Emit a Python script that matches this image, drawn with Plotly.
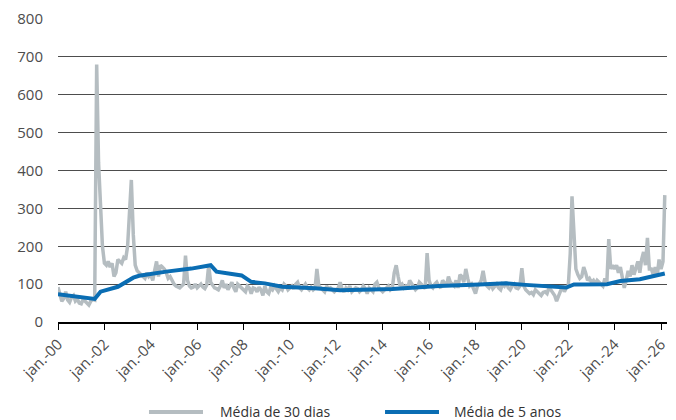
import pandas as pd
import plotly.graph_objects as go

# Média de 30 dias (monthly readings, Jan-2000 .. Mar-2026)
gray_2000s = [
    92, 70, 55, 62, 80, 58, 52, 65, 70, 55, 60, 50,        # 2000
    48, 60, 55, 52, 45, 55, 60, 58, 680, 420, 280, 200,    # 2001
    155, 150, 160, 145, 155, 120, 130, 165, 160, 155, 170, 165,  # 2002
    200, 290, 375, 230, 150, 135, 130, 125, 120, 115, 130, 120,  # 2003
    125, 110, 135, 160, 120, 150, 145, 140, 130, 115, 120, 110,  # 2004
    100, 95, 92, 90, 95, 100, 175, 110, 95, 90, 92, 100,   # 2005
    90, 95, 100, 92, 88, 98, 150, 105, 95, 90, 88, 85,     # 2006
    95, 110, 90, 100, 85, 95, 105, 90, 80, 100, 95, 90,    # 2007
    85, 80, 95, 90, 75, 90, 88, 80, 92, 85, 70, 95,        # 2008
    80, 75, 90, 85, 95, 88, 80, 90, 85, 100, 95, 85,       # 2009
]
gray_2010s = [
    90, 95, 88, 100, 105, 90, 85, 95, 100, 90, 85, 92,     # 2010
    85, 90, 140, 95, 90, 85, 80, 95, 88, 90, 85, 80,       # 2011
    85, 90, 105, 88, 80, 90, 85, 95, 80, 85, 90, 88,       # 2012
    80, 85, 95, 88, 75, 90, 85, 80, 100, 105, 90, 85,      # 2013
    80, 85, 90, 95, 85, 90, 130, 150, 120, 95, 100, 90,    # 2014
    95, 90, 110, 100, 95, 85, 90, 105, 100, 95, 88, 182,   # 2015
    110, 95, 90, 100, 105, 95, 90, 110, 100, 95, 120, 105, # 2016
    100, 95, 110, 90, 125, 120, 105, 140, 115, 95, 100, 90,  # 2017
    75, 95, 100, 110, 135, 105, 95, 90, 100, 88, 95, 100,  # 2018
    90, 85, 100, 95, 105, 90, 85, 95, 100, 90, 88, 95,     # 2019
]
gray_2020s = [
    142, 95, 85, 80, 75, 78, 72, 85, 80, 75, 70, 78,       # 2020
    80, 75, 90, 85, 78, 70, 55, 70, 85, 95, 80, 90,        # 2021
    95, 180, 332, 220, 140, 125, 115, 120, 145, 130, 110, 115,  # 2022
    105, 110, 100, 110, 105, 100, 95, 115, 105, 219, 140, 150,  # 2023
    140, 150, 130, 145, 115, 90, 110, 135, 120, 150, 125, 140,  # 2024
    160, 130, 165, 185, 150, 222, 140, 140, 125, 145, 120, 165,  # 2025
    140, 160, 335,                                          # 2026
]
gray_values = gray_2000s + gray_2010s + gray_2020s
gray_dates = pd.date_range("2000-01-01", periods=len(gray_values), freq="MS")

# Média de 5 anos
blue_dates = ["2000-01-01", "2001-08-01", "2001-11-01", "2002-08-01", "2003-04-01",
              "2003-07-01", "2004-09-01", "2005-10-01", "2006-08-01", "2006-11-01",
              "2007-12-01", "2008-05-01", "2008-12-01", "2009-09-01", "2011-02-01",
              "2012-03-01", "2014-06-01", "2016-06-01", "2018-03-01", "2019-05-01",
              "2020-03-01", "2021-12-01", "2022-04-01", "2023-09-01", "2024-04-01",
              "2025-02-01", "2026-03-01"]
blue_values = [73, 61, 80, 93, 117, 122, 133, 141, 150, 133, 123, 106, 102, 93, 89,
               84, 87, 95, 99, 102, 98, 91, 99, 100, 108, 113, 128]

series_names = ["Média de 30 dias", "Média de 5 anos"]
tick_dates = [f"{y}-01-01" for y in range(2000, 2027, 2)]
tick_labels = [f"jan.-{y % 100:02d}" for y in range(2000, 2027, 2)]
y_ticks = list(range(0, 801, 100))

FONT = "Open Sans"
TXT = "#4d4d4d"
GRAY = "#b5bdc1"
BLUE = "#0a6db3"

fig = go.Figure()
fig.add_trace(go.Scatter(x=gray_dates, y=gray_values, mode="lines",
                         name=series_names[0], showlegend=False,
                         line=dict(color=GRAY, width=3.5)))
fig.add_trace(go.Scatter(x=blue_dates, y=blue_values, mode="lines",
                         name=series_names[1], showlegend=False,
                         line=dict(color=BLUE, width=4)))

# legend drawn in paper coordinates (below the plot)
LEG_Y = -0.297
legend_items = [(0.1494, 0.2381, 0.2627, GRAY, series_names[0]),
                (0.537, 0.6256, 0.647, BLUE, series_names[1])]
for x0, x1, xt, col, name in legend_items:
    fig.add_shape(type="line", xref="paper", yref="paper", x0=x0, x1=x1,
                  y0=LEG_Y, y1=LEG_Y, line=dict(color=col, width=4))
    fig.add_annotation(xref="paper", yref="paper", x=xt, y=LEG_Y, text=name,
                       showarrow=False, xanchor="left", yanchor="middle",
                       font=dict(family=FONT, size=14, color="#333333"))

fig.update_layout(
    width=676, height=420,
    margin=dict(l=58, r=9, t=19, b=98, autoexpand=False),
    paper_bgcolor="white", plot_bgcolor="white",
    font=dict(family=FONT, size=14, color=TXT),
    showlegend=False,
    xaxis=dict(type="date", range=["2000-01-01", "2026-04-05"], automargin=False,
               tickvals=tick_dates, ticktext=tick_labels, tickangle=-45,
               ticks="outside", ticklen=6, tickwidth=1.2, tickcolor="black",
               showline=True, linecolor="black", linewidth=1.5,
               showgrid=False, zeroline=False,
               tickfont=dict(family=FONT, size=15, color=TXT)),
    yaxis=dict(range=[0, 800], tickvals=y_ticks, showgrid=True, automargin=False,
               gridcolor="#4d4d4d", gridwidth=1, zeroline=False,
               showline=False, ticks="", ticklabelstandoff=14,
               tickfont=dict(family=FONT, size=15, color=TXT)),
)

fig.write_html("out.html", config={"displayModeBar": False},
               post_script="document.body.style.margin='0';document.body.style.overflow='hidden';")
